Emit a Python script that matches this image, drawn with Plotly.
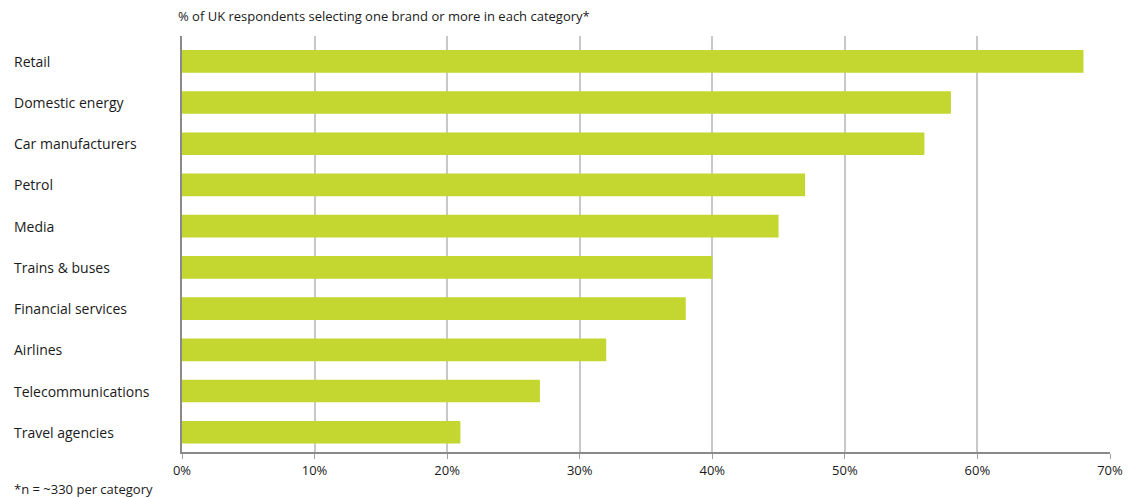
import plotly.graph_objects as go

categories = ["Retail", "Domestic energy", "Car manufacturers", "Petrol", "Media",
              "Trains & buses", "Financial services", "Airlines",
              "Telecommunications", "Travel agencies"]
values = [68, 58, 56, 47, 45, 40, 38, 32, 27, 21]
tick_vals = [0, 10, 20, 30, 40, 50, 60, 70]
tick_text = ["0%", "10%", "20%", "30%", "40%", "50%", "60%", "70%"]
title_text = "% of UK respondents selecting one brand or more in each category*"
footnote = "*n = ~330 per category"

FONT = "Open Sans"
TXT = "#1a1a1a"

fig = go.Figure()
fig.add_trace(go.Bar(
    x=values, y=categories, orientation="h",
    marker=dict(color="#C3D730", line=dict(width=0)),
    width=0.55, hoverinfo="x+y",
))

annotations = []
for c in categories:
    annotations.append(dict(
        x=0, xref="paper", y=c, yref="y", text=c, showarrow=False,
        xanchor="left", yanchor="middle", xshift=12 - 182,
        font=dict(family=FONT, size=14, color=TXT),
    ))

annotations.append(dict(
    x=0, xref="paper", y=1, yref="paper", text=title_text, showarrow=False,
    xanchor="left", yanchor="bottom", xshift=-6, yshift=9,
    font=dict(family=FONT, size=13, color=TXT),
))
annotations.append(dict(
    x=0, xref="paper", y=0, yref="paper", text=footnote, showarrow=False,
    xanchor="left", yanchor="middle", xshift=12 - 182, yshift=-37,
    font=dict(family=FONT, size=13, color=TXT),
))

fig.update_layout(
    width=1142, height=498,
    margin=dict(l=182, r=32, t=36, b=46),
    paper_bgcolor="white", plot_bgcolor="white",
    showlegend=False,
    bargap=0.45,
    font=dict(family=FONT, size=13, color=TXT),
    annotations=annotations,
    xaxis=dict(
        range=[0, 70], tickvals=tick_vals, ticktext=tick_text,
        showgrid=True, gridcolor="#c8c8c8", gridwidth=1.5,
        zeroline=False,
        showline=True, linecolor="#8a8a8a", linewidth=2,
        ticks="outside", ticklen=5, tickcolor="#a0a0a0", tickwidth=1,
        tickfont=dict(family=FONT, size=13, color=TXT),
        fixedrange=True,
    ),
    yaxis=dict(
        categoryorder="array", categoryarray=categories,
        range=[9.48, -0.614],
        showticklabels=False, showgrid=False, zeroline=False,
        showline=True, linecolor="#8a8a8a", linewidth=2,
        fixedrange=True,
    ),
)

fig.write_html("out.html")
